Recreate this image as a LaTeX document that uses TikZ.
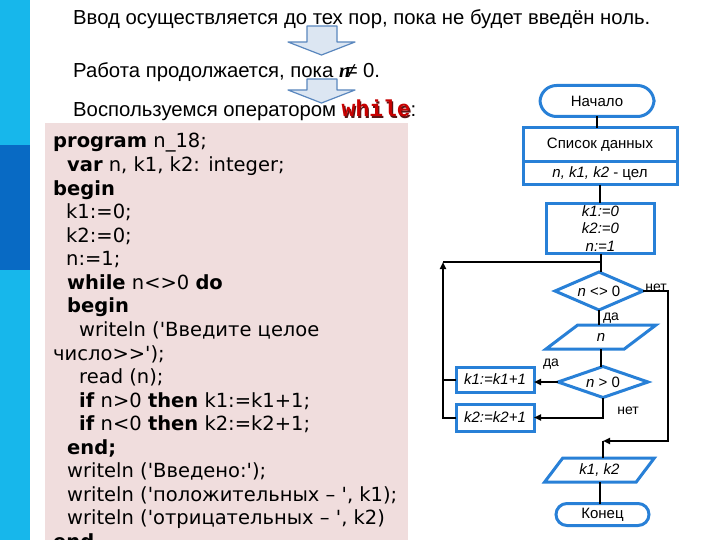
\documentclass[tikz,border=0pt]{standalone}
\usepackage{fontspec}
\setmainfont{Liberation Sans}
\newfontfamily\codefont{DejaVu Sans}[Ligatures=TeXOff]
\newfontfamily\whilefont{Liberation Mono}
\newfontfamily\nfont{Liberation Serif}
\usepackage{tikz}
\usetikzlibrary{arrows.meta,positioning,shapes.geometric}

\definecolor{barcyan}{RGB}{23,183,235}
\definecolor{bardark}{RGB}{8,106,196}
\definecolor{codebg}{RGB}{240,221,221}
\definecolor{fcblue}{RGB}{40,128,215}
\definecolor{arrfill}{RGB}{220,230,242}
\definecolor{arrline}{RGB}{90,135,190}
\definecolor{kwred}{RGB}{200,0,0}
\definecolor{kwshadow}{RGB}{90,20,20}

\newcommand{\kw}[1]{\textbf{#1}}
\newcommand{\fcfont}{\fontsize{15}{17.5}\selectfont}
\newcommand{\toptext}{\fontsize{20.3}{22}\selectfont}
\newcommand{\shadowword}[1]{\makebox[0pt][l]{\hspace{1.2pt}\raisebox{-1.2pt}{\textcolor{kwshadow}{#1}}}\textcolor{kwred}{#1}}

\begin{document}
\begin{tikzpicture}[x=1pt, y=-1pt,
    fc/.style={draw=fcblue, line width=3pt, align=center, inner sep=1pt, outer sep=0pt, font=\fcfont},
    fcit/.style={fc, font=\fcfont\itshape},
    proc/.style={fc, rectangle},
    io/.style={fc, trapezium, trapezium left angle=55, trapezium right angle=125, trapezium stretches=true},
    cond/.style={fc, diamond, inner sep=0pt},
    lbl/.style={font=\fontsize{14}{16}\selectfont, inner sep=0pt},
    line/.style={line width=2pt},
    arrow/.style={line, -{Triangle[length=7pt,width=6pt]}},
    bigarrow/.style={fill=arrfill, draw=arrline, line width=1.2pt, line join=round}
]
\useasboundingbox (0,0) rectangle (720,540);
\fill[white] (0,0) rectangle (720,540);

% side bar
\fill[barcyan] (0,0) rectangle (30,540);
\fill[bardark] (0,145) rectangle (30,270);

% heading lines
\node[anchor=base west, inner sep=0, font=\toptext] (intro) at (73,25) {Ввод осуществляется до тех пор, пока не будет введён ноль.};
\node[anchor=base west, inner sep=0, font=\toptext] (rule) at (73,78) {Работа продолжается, пока {\nfont\bfseries\itshape n}\kern-4pt≠ 0.};
\node[anchor=base west, inner sep=0, font=\toptext] (use) at (73,117) {Воспользуемся оператором {\whilefont\bfseries\fontsize{23}{24}\selectfont\shadowword{while}}:};

\foreach \ytop/\ybase/\ytip in {26/42/55, 79/90/103}
  \draw[bigarrow] (307,\ytop) -- (337,\ytop) -- (337,\ybase) -- (355,\ybase) -- (321.5,\ytip) -- (288,\ybase) -- (307,\ybase) -- cycle;

% program text
\fill[codebg] (45,123) rectangle (408,540);
\node[anchor=base west, align=left, inner sep=0, font=\codefont\fontsize{19.5}{23.56}\selectfont] (code) at (53,548.5) {%
\kw{program} n\_18;\\
\hspace*{14pt}\kw{var} n, k1, k2: integer;\\
\kw{begin}\\
\hspace*{13pt}k1:=0;\\
\hspace*{13pt}k2:=0;\\
\hspace*{13pt}n:=1;\\
\hspace*{14pt}\kw{while} n<>0 \kw{do}\\
\hspace*{14pt}\kw{begin}\\
\hspace*{26pt}writeln ('Введите целое\\
число>>');\\
\hspace*{26pt}read (n);\\
\hspace*{26pt}\kw{if} n>0 \kw{then} k1:=k1+1;\\
\hspace*{26pt}\kw{if} n<0 \kw{then} k2:=k2+1;\\
\hspace*{14pt}\kw{end;}\\
\hspace*{14pt}writeln ('Введено:');\\
\hspace*{14pt}writeln ('положительных – ', k1);\\
\hspace*{14pt}writeln ('отрицательных – ', k2)\\
\kw{end.}};

% flowchart
\node[proc, rounded corners=16.5pt, minimum width=114, minimum height=31] (start) at (597,101) {Начало};
\node[proc, minimum width=154, minimum height=34] (list) at (600,145) {Список данных};
\node[proc, minimum width=154, minimum height=23, below=0pt of list] (vars) {\textit{n, k1, k2} - цел};
\node[fcit, rectangle, minimum width=108, minimum height=50] (init) at (600.5,228.5) {k1:=0\\k2:=0\\n:=1};
\node[cond, aspect=2.3, minimum width=88, minimum height=38] (dec1) at (599,291) {\textit{n} <> 0};
\node[io, minimum width=110, minimum height=24] (in1) at (601,337) {\textit{n}};
\node[cond, aspect=2.9, minimum width=90, minimum height=31] (dec2) at (603,382) {\textit{n} > 0};
\node[fcit, rectangle, minimum width=78, minimum height=25] (k1) at (495,379.5) {k1:=k1+1};
\node[fcit, rectangle, minimum width=78, minimum height=27] (k2) at (495,417.5) {k2:=k2+1};
\node[io, minimum width=110, minimum height=24] (out) at (599.5,470) {\textit{k1, k2}};
\node[proc, rounded corners=11pt, minimum width=93, minimum height=22] (stop) at (602.5,514.5) {Конец};

\node[lbl] (no1) at (656,288) {нет};
\node[lbl] (yes1) at (611,318) {да};
\node[lbl] (yes2) at (551,364) {да};
\node[lbl] (no2) at (628,411) {нет};

\coordinate (loop) at (443,262);
\coordinate (ncorner) at (668,441);
\coordinate (merge) at (603,441);

\draw[line] (start.south) -- (start.south |- list.north);
\draw[line] (vars.south) -- (vars.south |- init.north);
\draw[line] (init.south) -- (init.south |- dec1.north);
\draw[line] (loop) -- (loop -| init.south);
\draw[line] (dec1.south) -- (dec1.south |- in1.north);
\draw[line] (in1.south) -- (in1.south |- dec2.north);
\draw[arrow] (dec2.west) -- (dec2.west -| k1.east);
\draw[arrow] (dec2.south) |- (k2.east);
\draw[line] (k1.west) -- (k1.west -| loop);
\draw[arrow] (k2.west) -| (loop);
\draw[arrow] (dec1.east) -| (ncorner) -- (merge);
\draw[line] (merge) -- (merge |- out.north);
\draw[line] (out.south) -- (out.south |- stop.north);
\end{tikzpicture}
\end{document}
